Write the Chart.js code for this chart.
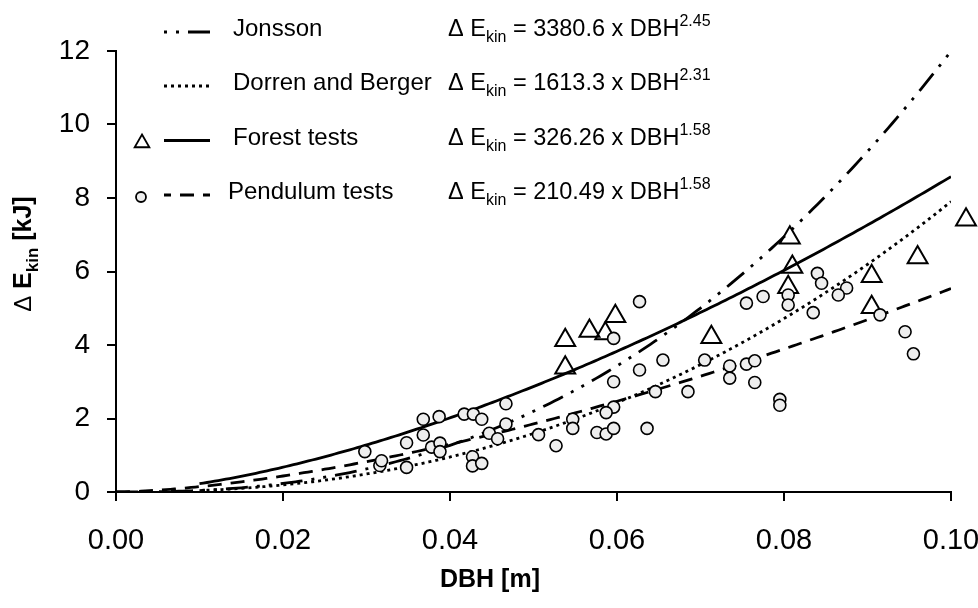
<!DOCTYPE html>
<html>
<head>
<meta charset="utf-8">
<script src="https://cdn.jsdelivr.net/npm/chart.js@4.4.1/dist/chart.umd.min.js"></script>
<style>
html, body { margin: 0; padding: 0; background: #fff; }
canvas { display: block; }
</style>
</head>
<body>
<canvas id="chart" width="978" height="608"></canvas>
<script>
// Measured energy loss per stem diameter, forest and pendulum series
const forestDbh = [0.0538, 0.0538, 0.0567, 0.0586, 0.0598, 0.0713, 0.0807, 0.0810, 0.0805, 0.0905, 0.0905, 0.0960, 0.1018];
const forestE   = [4.13, 3.38, 4.38, 4.31, 4.78, 4.21, 6.92, 6.12, 5.57, 5.87, 5.03, 6.38, 7.41];

const pendDbh = [0.0298, 0.0316, 0.0318, 0.0348, 0.0348, 0.0368, 0.0368, 0.0387, 0.0378, 0.0388,
                 0.0388, 0.0417, 0.0428, 0.0438, 0.0427, 0.0427, 0.0438, 0.0447, 0.0457, 0.0467,
                 0.0467, 0.0506, 0.0627, 0.0596, 0.0655, 0.0627, 0.0596, 0.0646, 0.0685, 0.0596,
                 0.0587, 0.0547, 0.0547, 0.0576, 0.0587, 0.0596, 0.0636, 0.0527, 0.0840, 0.0845,
                 0.0775, 0.0755, 0.0805, 0.0805, 0.0835, 0.0705, 0.0735, 0.0755, 0.0765, 0.0735,
                 0.0765, 0.0795, 0.0795, 0.0875, 0.0865, 0.0915, 0.0945, 0.0955];
const pendE   = [1.10, 0.72, 0.85, 1.34, 0.67, 1.98, 1.55, 2.05, 1.22, 1.33,
                 1.10, 2.12, 2.12, 1.98, 0.96, 0.71, 0.78, 1.60, 1.45, 2.40,
                 1.85, 1.56, 5.18, 4.18, 3.59, 3.32, 3.00, 2.73, 2.73, 2.31,
                 2.16, 1.98, 1.73, 1.62, 1.58, 1.73, 1.73, 1.26, 5.95, 5.68,
                 5.32, 5.14, 5.36, 5.09, 4.88, 3.59, 3.43, 3.48, 3.57, 3.10,
                 2.98, 2.52, 2.36, 5.55, 5.36, 4.82, 4.36, 3.76];

// Power-law fits: dE = a * DBH^b
const fitNames = ["Jonsson", "Dorren and Berger", "Forest tests", "Pendulum tests"];
const fitCoef  = ["3380.6", "1613.3", "326.26", "210.49"];
const fitExp   = ["2.45", "2.31", "1.58", "1.58"];
const fitFrom  = [0, 0.01, 0.01, 0];

const xTicks = [0, 0.02, 0.04, 0.06, 0.08, 0.10];
const xTickLabels = ["0.00", "0.02", "0.04", "0.06", "0.08", "0.10"];
const yTicks = [0, 2, 4, 6, 8, 10, 12];
const yTickLabels = ["0", "2", "4", "6", "8", "10", "12"];

const FONT = "'Liberation Sans', Arial, sans-serif";
const dashes = [[22, 9, 3, 9, 3, 9], [3, 4], [], [14, 9]];
const sampleOffset = [31, 0, 0, 7];

function fitCurve(i) {
  const a = Number(fitCoef[i]), b = Number(fitExp[i]);
  const pts = [];
  for (let k = 0; k <= 200; k++) {
    const x = fitFrom[i] + (0.1 - fitFrom[i]) * k / 200;
    pts.push({ x, y: a * Math.pow(x, b) });
  }
  return pts;
}

const zip = (xs, ys) => xs.map((x, i) => ({ x, y: ys[i] }));

function drawRuns(ctx, x, y, runs) {
  for (const r of runs) {
    ctx.font = r.font;
    ctx.fillText(r.text, x, y + (r.dy || 0));
    x += ctx.measureText(r.text).width;
  }
  return x;
}
function runsWidth(ctx, runs) {
  let w = 0;
  for (const r of runs) { ctx.font = r.font; w += ctx.measureText(r.text).width; }
  return w;
}

function triangle(ctx, x, y, r) {
  ctx.beginPath();
  for (let k = 0; k < 3; k++) {
    const a = k * 2 * Math.PI / 3;
    const px = x + Math.sin(a) * r, py = y - Math.cos(a) * r;
    k ? ctx.lineTo(px, py) : ctx.moveTo(px, py);
  }
  ctx.closePath();
  ctx.stroke();
}

// let the marker series spill past the right edge of the plot
const overflowPoints = {
  id: "overflowPoints",
  beforeDatasetDraw(chart, args) {
    if (args.index > 1) return;
    this.saved = chart.chartArea;
    chart.chartArea = { ...this.saved, right: chart.width, width: chart.width - this.saved.left };
  },
  afterDatasetDraw(chart, args) {
    if (args.index > 1 || !this.saved) return;
    chart.chartArea = this.saved;
    this.saved = null;
  }
};

// legend block, equations and axis titles
const annotations = {
  id: "annotations",
  afterDraw(chart) {
    const ctx = chart.ctx;
    ctx.save();
    ctx.fillStyle = "#000";
    ctx.strokeStyle = "#000";
    ctx.textBaseline = "alphabetic";
    ctx.textAlign = "left";

    const base = [36, 90, 144.5, 199];
    const labelX = [233, 233, 233, 228];
    for (let i = 0; i < 4; i++) {
      const ly = base[i] - 4;
      ctx.lineWidth = 2.8;
      ctx.setLineDash(dashes[i]);
      ctx.lineDashOffset = sampleOffset[i];
      ctx.beginPath();
      ctx.moveTo(164, ly);
      ctx.lineTo(210, ly);
      ctx.stroke();
      ctx.setLineDash([]);
      ctx.lineDashOffset = 0;

      ctx.font = `24px ${FONT}`;
      ctx.fillText(fitNames[i], labelX[i], base[i]);

      drawRuns(ctx, 448, base[i], [
        { text: "\u0394 E", font: `23.5px ${FONT}` },
        { text: "kin", font: `16px ${FONT}`, dy: 6 },
        { text: ` = ${fitCoef[i]} x DBH`, font: `23.5px ${FONT}` },
        { text: fitExp[i], font: `16px ${FONT}`, dy: -10 }
      ]);
    }

    // series markers in the legend
    ctx.lineWidth = 1.8;
    triangle(ctx, 142, 143, 8.5);
    ctx.beginPath();
    ctx.arc(141, 197, 5, 0, 2 * Math.PI);
    ctx.fillStyle = "#eee";
    ctx.fill();
    ctx.stroke();
    ctx.fillStyle = "#000";

    // y title, rotated
    const yRuns = [
      { text: "\u0394 ", font: `24px ${FONT}` },
      { text: "E", font: `bold 25px ${FONT}` },
      { text: "kin", font: `bold 17px ${FONT}`, dy: 7 },
      { text: " [kJ]", font: `bold 25px ${FONT}` }
    ];
    const yw = runsWidth(ctx, yRuns);
    ctx.save();
    ctx.translate(31, 254);
    ctx.rotate(-Math.PI / 2);
    drawRuns(ctx, -yw / 2, 0, yRuns);
    ctx.restore();

    // x title
    ctx.font = `bold 25px ${FONT}`;
    ctx.textAlign = "center";
    ctx.fillText("DBH [m]", 490, 587);
    ctx.restore();
  }
};

const lineSets = fitNames.map((name, i) => ({
  label: name,
  type: "line",
  data: fitCurve(i),
  borderColor: "#000",
  borderWidth: 2.8,
  borderDash: dashes[i],
  pointRadius: 0,
  fill: false,
  tension: 0,
  order: 2
}));

new Chart(document.getElementById("chart"), {
  type: "scatter",
  data: {
    datasets: [
      {
        label: "Forest tests",
        data: zip(forestDbh, forestE),
        pointStyle: "triangle",
        pointRadius: 11.5,
        pointBorderWidth: 2,
        pointBorderColor: "#000",
        pointBackgroundColor: "rgba(0,0,0,0)",
        clip: false,
        order: 1
      },
      {
        label: "Pendulum tests",
        data: zip(pendDbh, pendE),
        pointStyle: "circle",
        pointRadius: 6,
        pointBorderWidth: 1.6,
        pointBorderColor: "#000",
        pointBackgroundColor: "#eeeeee",
        clip: false,
        order: 0
      },
      ...lineSets
    ]
  },
  options: {
    responsive: false,
    animation: false,
    events: [],
    layout: { padding: { top: 51, right: 27, left: 0, bottom: 0 } },
    plugins: { legend: { display: false }, tooltip: { enabled: false } },
    scales: {
      x: {
        type: "linear",
        min: 0, max: 0.1,
        afterBuildTicks: s => { s.ticks = xTicks.map(v => ({ value: v })); },
        afterFit: s => { s.height = 116; s.paddingLeft = 0; s.paddingRight = 0; },
        ticks: {
          callback: (v, i) => xTickLabels[i],
          font: { family: FONT, size: 29 },
          color: "#000",
          padding: 23,
          maxRotation: 0
        },
        grid: { drawOnChartArea: false, drawTicks: true, tickLength: 9, color: "#000", lineWidth: 2 },
        border: { display: true, color: "#000", width: 2 }
      },
      y: {
        type: "linear",
        min: 0, max: 12,
        afterBuildTicks: s => { s.ticks = yTicks.map(v => ({ value: v })); },
        afterFit: s => { s.width = 116; },
        ticks: {
          callback: (v, i) => yTickLabels[i],
          font: { family: FONT, size: 28 },
          color: "#000",
          padding: 17
        },
        grid: { drawOnChartArea: false, drawTicks: true, tickLength: 9, color: "#000", lineWidth: 2 },
        border: { display: true, color: "#000", width: 2 }
      }
    }
  },
  plugins: [overflowPoints, annotations]
});
</script>
</body>
</html>
